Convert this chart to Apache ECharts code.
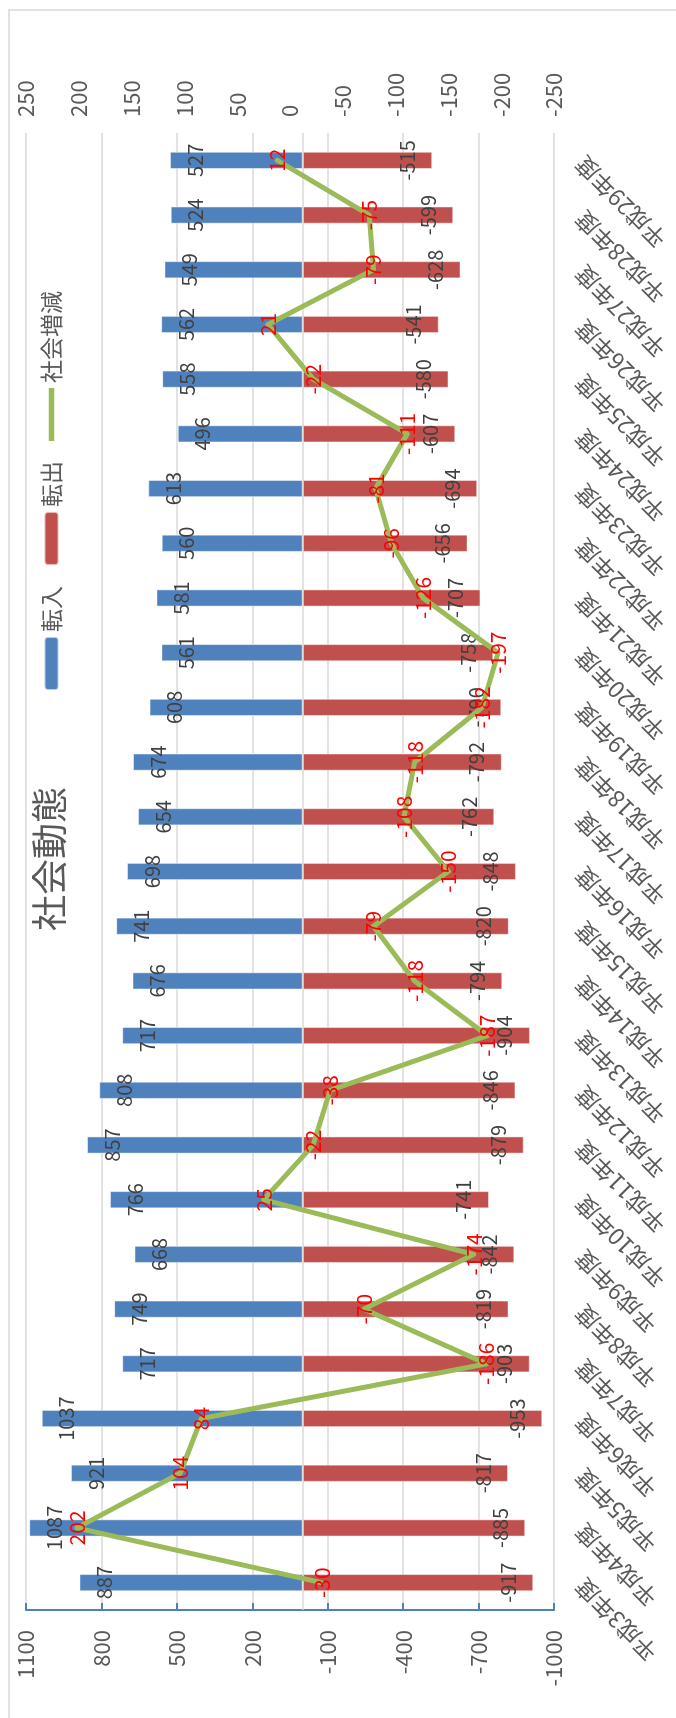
<!DOCTYPE html>
<html><head><meta charset="utf-8">
<script src="https://cdn.jsdelivr.net/npm/echarts@6/dist/echarts.min.js"></script>
<style>
html,body{margin:0;padding:0;background:#fff;overflow:hidden;width:676px;height:1718px;}
#chart{position:absolute;left:0;top:0;width:1718px;height:676px;transform-origin:0 0;transform:translate(0,1718px) rotate(-90deg);}
</style></head><body><div id="chart"></div>
<script>
const categories = ['平成3年度','平成4年度','平成5年度','平成6年度','平成7年度','平成8年度','平成9年度','平成10年度','平成11年度','平成12年度','平成13年度','平成14年度','平成15年度','平成16年度','平成17年度','平成18年度','平成19年度','平成20年度','平成21年度','平成22年度','平成23年度','平成24年度','平成25年度','平成26年度','平成27年度','平成28年度','平成29年度'];
const tennyu = [887,1087,921,1037,717,749,668,766,857,808,717,676,741,698,654,674,608,561,581,560,613,496,558,562,549,524,527];
const tenshutsu = [-917,-885,-817,-953,-903,-819,-842,-741,-879,-846,-904,-794,-820,-848,-762,-792,-790,-758,-707,-656,-694,-607,-580,-541,-628,-599,-515];
const shakaiZougen = [-30,202,104,84,-186,-70,-174,25,-22,-38,-187,-118,-79,-150,-108,-118,-182,-197,-126,-96,-81,-111,-22,21,-79,-75,12];
const seriesNames = ['転入','転出','社会増減'];
const primaryAxis = {min:-1000, max:1100, interval:300};
const secondaryAxis = {min:-250, max:250, interval:50};

const FONT = "'Noto Sans CJK JP', 'Noto Sans', sans-serif";
const chart = echarts.init(document.getElementById('chart'), null, {renderer:'canvas'});
chart.setOption({
  animation:false,
  backgroundColor:'#ffffff',
  textStyle:{fontFamily:FONT},
  graphic:[{type:'rect', shape:{x:-10,y:9,width:1718,height:700}, style:{fill:'none', stroke:'#D9D9D9', lineWidth:1.5}, z:-10}],
  title:{text:'社会動態', left:'center', top:26, textStyle:{fontFamily:FONT, fontSize:36, fontWeight:'normal', color:'#595959'}},
  legend:{data:[
      {name:seriesNames[0]},
      {name:seriesNames[1]},
      {name:seriesNames[2], icon:'path://M0,0 L100,0 L100,10 L0,10 Z', itemStyle:{color:'#9BBB59'}}],
    left:1022, top:35, itemWidth:53, itemHeight:14, itemGap:20,
    textStyle:{fontFamily:FONT, fontSize:23, color:'#595959'}},
  grid:{left:108, right:133, top:26, bottom:122},
  xAxis:{type:'category', data:categories,
    axisLine:{show:false}, axisTick:{show:false},
    axisLabel:{rotate:45, fontSize:23, color:'#595959', fontFamily:FONT, margin:25, interval:0}},
  yAxis:[
    {type:'value', min:primaryAxis.min, max:primaryAxis.max, interval:primaryAxis.interval,
     axisLine:{show:true, lineStyle:{color:'#4F81BD', width:2}},
     axisTick:{show:true, inside:true, length:7, lineStyle:{color:'#4F81BD', width:2}},
     axisLabel:{fontSize:22, color:'#595959', fontFamily:FONT, margin:20, formatter:v=>String(v)},
     splitLine:{show:true, lineStyle:{color:'#D9D9D9', width:1.5}}},
    {type:'value', min:secondaryAxis.min, max:secondaryAxis.max, interval:secondaryAxis.interval,
     axisLine:{show:false}, axisTick:{show:false},
     axisLabel:{fontSize:22, color:'#595959', fontFamily:FONT, margin:16, formatter:v=>String(v)},
     splitLine:{show:false}}
  ],
  series:[
    {name:seriesNames[0], type:'bar', data:tennyu, barWidth:17, barGap:'-100%',
     itemStyle:{color:'#4F81BD', borderColor:'rgba(255,255,255,0.6)', borderWidth:0.8},
     label:{show:true, position:'insideTop', distance:15, color:'#404040', fontSize:20, fontFamily:FONT},
     markLine:{silent:true, symbol:'none', label:{show:false}, lineStyle:{color:'#D9D9D9', type:'solid', width:1.5}, data:[{yAxis:0}]}},
    {name:seriesNames[1], type:'bar', data:tenshutsu, barWidth:17,
     itemStyle:{color:'#C0504D', borderColor:'rgba(255,255,255,0.6)', borderWidth:0.8},
     label:{show:true, position:'insideBottom', distance:15, color:'#404040', fontSize:20, fontFamily:FONT}},
    {name:seriesNames[2], type:'line', yAxisIndex:1, data:shakaiZougen, showSymbol:true, symbol:'circle', symbolSize:1,
     lineStyle:{color:'#9BBB59', width:5, cap:'round', join:'round'}, itemStyle:{color:'rgba(155,187,89,0)', borderWidth:0},
     label:{show:true, position:'inside', color:'#FF0000', fontSize:21, fontFamily:FONT}, z:5}
  ]
});
</script></body></html>
